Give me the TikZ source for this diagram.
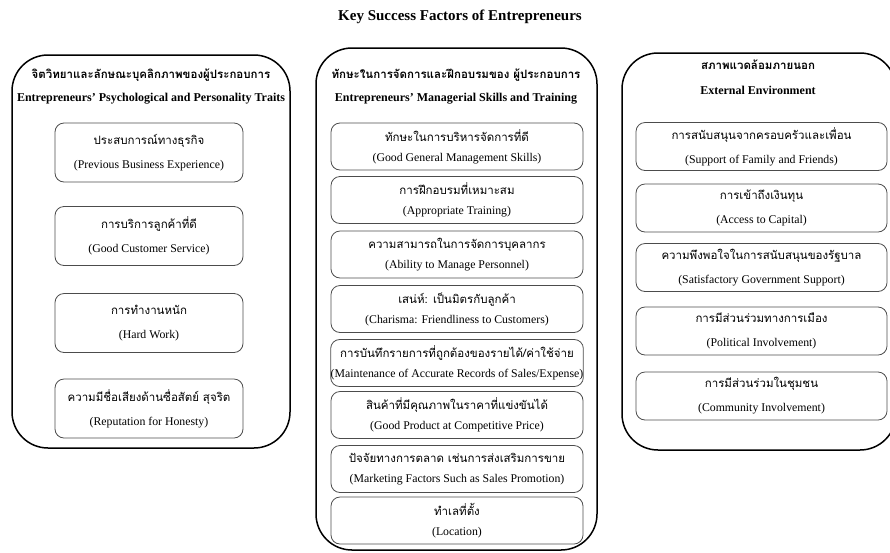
\documentclass[tikz,border=0pt]{standalone}
\usepackage{fontspec}
\setmainfont{Liberation Serif}
\newfontfamily\thaifont[Script=Thai,Scale=1.0]{Loma}

\begin{document}
\begin{tikzpicture}[x=1pt,y=-1pt,
  groupbox/.style={draw=black,line width=1.5pt,rounded corners=36pt,inner sep=0pt},
  itembox/.style={draw=black!70,line width=0.8pt,rounded corners=9pt,align=center,inner sep=0pt,font=\fontsize{11.8}{12}\selectfont},
  headtext/.style={font=\fontsize{12}{13}\selectfont\bfseries,inner sep=0pt},
  titletext/.style={font=\fontsize{15}{16}\selectfont\bfseries,inner sep=0pt}]
\clip (0,0) rectangle (890,552);

\node[titletext] (title) at (460,17) {Key Success Factors of Entrepreneurs};

% three groups
\node[groupbox,minimum width=278pt,minimum height=393pt] (grpL) at (151,251.5) {};
\node[groupbox,minimum width=281pt,minimum height=502pt] (grpM) at (456.5,299) {};
\node[groupbox,minimum width=274pt,minimum height=397pt] (grpR) at (759,251.5) {};

\node[headtext] (headL1) at (151,75) {\fontsize{11.5}{13}\thaifont จิตวิทยาและลักษณะบุคลิกภาพของผู้ประกอบการ};
\node[headtext] (headL2) at (151,99) {Entrepreneurs’ Psychological and Personality Traits};
\node[headtext] (headM1) at (456,75) {\fontsize{11.5}{13}\thaifont ทักษะในการจัดการและฝึกอบรมของ ผู้ประกอบการ};
\node[headtext] (headM2) at (456,99) {Entrepreneurs’ Managerial Skills and Training};
\node[headtext] (headR1) at (758,65) {\fontsize{11.5}{13}\thaifont สภาพแวดล้อมภายนอก};
\node[headtext] (headR2) at (758,90) {External Environment};

% left column
\node[itembox,minimum width=188pt,minimum height=59pt] (l1) at (149,152.5) {{\fontsize{11.5}{12}\thaifont ประสบการณ์ทางธุรกิจ}\\[12pt](Previous Business Experience)};
\node[itembox,minimum width=188pt,minimum height=59pt] (l2) at (149,236) {{\fontsize{11.5}{12}\thaifont การบริการลูกค้าที่ดี}\\[12pt](Good Customer Service)};
\node[itembox,minimum width=188pt,minimum height=59pt] (l3) at (149,323) {{\fontsize{11.5}{12}\thaifont การทำงานหนัก}\\[12pt](Hard Work)};
\node[itembox,minimum width=188pt,minimum height=59pt] (l4) at (149,408.5) {{\fontsize{11.5}{12}\thaifont ความมีชื่อเสียงด้านซื่อสัตย์ สุจริต}\\[12pt](Reputation for Honesty)};

% middle column
\node[itembox,minimum width=252pt,minimum height=47pt] (m1) at (457,146.5) {{\fontsize{11.5}{12}\thaifont ทักษะในการบริหารจัดการที่ดี}\\[8pt](Good General Management Skills)};
\node[itembox,minimum width=252pt,minimum height=47pt] (m2) at (457,200) {{\fontsize{11.5}{12}\thaifont การฝึกอบรมที่เหมาะสม}\\[8pt](Appropriate Training)};
\node[itembox,minimum width=252pt,minimum height=47pt] (m3) at (457,254.5) {{\fontsize{11.5}{12}\thaifont ความสามารถในการจัดการบุคลากร}\\[8pt](Ability to Manage Personnel)};
\node[itembox,minimum width=252pt,minimum height=47pt] (m4) at (457,309) {{\fontsize{11.5}{12}\thaifont เสน่ห์: เป็นมิตรกับลูกค้า}\\[8pt](Charisma: Friendliness to Customers)};
\node[itembox,minimum width=252pt,minimum height=47pt] (m5) at (457,363) {{\fontsize{11.5}{12}\thaifont การบันทึกรายการที่ถูกต้องของรายได้/ค่าใช้จ่าย}\\[8pt](Maintenance of Accurate Records of Sales/Expense)};
\node[itembox,minimum width=252pt,minimum height=47pt] (m6) at (457,415) {{\fontsize{11.5}{12}\thaifont สินค้าที่มีคุณภาพในราคาที่แข่งขันได้}\\[8pt](Good Product at Competitive Price)};
\node[itembox,minimum width=252pt,minimum height=47pt] (m7) at (457,469) {{\fontsize{11.5}{12}\thaifont ปัจจัยทางการตลาด เช่นการส่งเสริมการขาย}\\[8pt](Marketing Factors Such as Sales Promotion)};
\node[itembox,minimum width=252pt,minimum height=47pt] (m8) at (457,520.5) {{\fontsize{11.5}{12}\thaifont ทำเลที่ตั้ง}\\[8pt](Location)};

% right column
\node[itembox,minimum width=251pt,minimum height=48pt] (r1) at (761.5,146.5) {{\fontsize{11.5}{12}\thaifont การสนับสนุนจากครอบครัวและเพื่อน}\\[12pt](Support of Family and Friends)};
\node[itembox,minimum width=251pt,minimum height=48pt] (r2) at (761.5,208) {{\fontsize{11.5}{12}\thaifont การเข้าถึงเงินทุน}\\[12pt](Access to Capital)};
\node[itembox,minimum width=251pt,minimum height=48pt] (r3) at (761.5,267.5) {{\fontsize{11.5}{12}\thaifont ความพึงพอใจในการสนับสนุนของรัฐบาล}\\[12pt](Satisfactory Government Support)};
\node[itembox,minimum width=251pt,minimum height=48pt] (r4) at (761.5,331) {{\fontsize{11.5}{12}\thaifont การมีส่วนร่วมทางการเมือง}\\[12pt](Political Involvement)};
\node[itembox,minimum width=251pt,minimum height=48pt] (r5) at (761.5,396) {{\fontsize{11.5}{12}\thaifont การมีส่วนร่วมในชุมชน}\\[12pt](Community Involvement)};
\end{tikzpicture}
\end{document}
